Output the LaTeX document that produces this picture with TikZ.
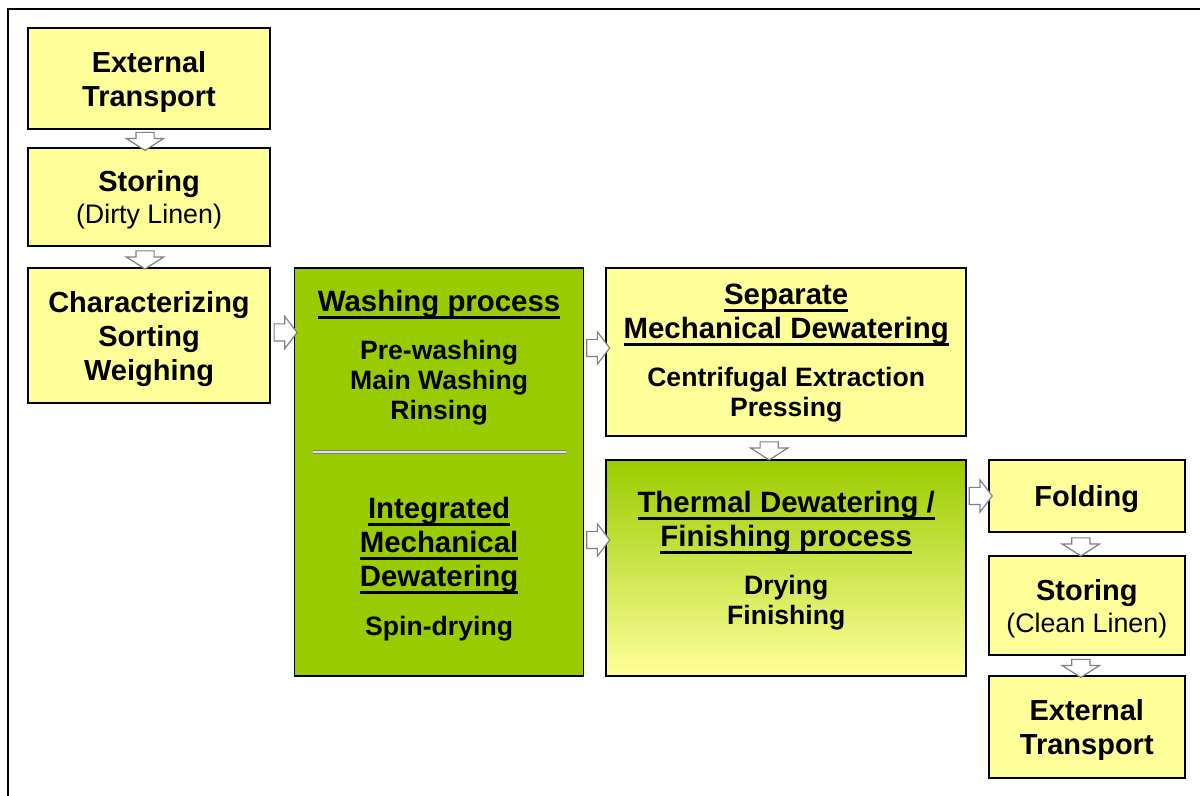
\documentclass[tikz,border=0pt]{standalone}
\usepackage{fontspec}
\setmainfont{Liberation Sans}
\usetikzlibrary{calc,positioning,shapes.arrows}
\definecolor{lyellow}{RGB}{255,255,153}
\definecolor{wgreen}{RGB}{153,204,0}
\newsavebox{\ulbox}
\newcommand{\ulin}[1]{\sbox{\ulbox}{#1}\rlap{\rule[-3.7pt]{\wd\ulbox}{1.5pt}}\usebox{\ulbox}}

\begin{document}
\begin{tikzpicture}[x=0.5pt,y=-0.5pt,node distance=11pt and 12pt]

\tikzset{yellownode/.style={draw=black,line width=0.8pt,fill=lyellow,align=center,inner sep=2pt,text depth=0pt,font=\fontsize{14.5}{17}\selectfont\bfseries,minimum width=121pt},
greennode/.style={draw=black,line width=0.8pt,fill=wgreen},
hdr/.style={align=center,font=\fontsize{14.7}{17}\selectfont\bfseries},
items/.style={align=center,font=\fontsize{13.3}{15}\selectfont\bfseries},
vblock/.style={single arrow,draw=gray,fill=white,line width=0.6pt,inner xsep=0pt,inner ysep=4.25pt,minimum height=9pt,single arrow head extend=4.75pt,single arrow tip angle=115,rotate=-90},
hblock/.style={single arrow,draw=gray,fill=white,line width=0.6pt,inner xsep=0pt,inner ysep=4pt,minimum height=11.5pt,single arrow head extend=3.75pt,single arrow tip angle=105}}

\useasboundingbox (0,0) rectangle (1200,796);

% Frame
\draw[line width=1pt] (8,800) -- (8,9) -- (1205,9);

% left column
\node (extT1) [yellownode,minimum height=50.5pt] at (149,78.5) {External\\Transport};
\node (store1) [yellownode,minimum height=49pt,below=8.7pt of extT1] {Storing\\[-1pt]{\mdseries\fontsize{13.4}{15}\selectfont (Dirty Linen)}};
\node (charSort) [yellownode,minimum height=67.5pt,below=10.2pt of store1] {Characterizing\\Sorting\\Weighing};

% washing process
\node (wash) [greennode,minimum width=144.5pt,minimum height=204pt,anchor=north west] at ($(charSort.north east)+(23,0)$) {};
\node (washHdr) at ($(wash.center)+(0,-167)$) [hdr] {\ulin{Washing process}};
\node (washItems) at ($(wash.center)+(0,-89)$) [items] {Pre-washing\\Main Washing\\Rinsing};
\draw[draw=black!50,double=black!12,double distance=0.6pt,line width=0.6pt] ($(wash.center)+(-126.5,-20)$) -- ($(wash.center)+(126.5,-20)$);
\node (intHdr) at ($(wash.center)+(0,74)$) [hdr] {\ulin{Integrated}\\\ulin{Mechanical}\\\ulin{Dewatering}};
\node (spin) at ($(wash.center)+(0,157)$) [items] {Spin-drying};

% separate dewatering
\node (sepDew) [yellownode,minimum width=180pt,minimum height=84pt,anchor=north west] at ($(wash.north east)+(21,0)$) {};
\node (sepHdr) at ($(sepDew.center)+(0,-37)$) [hdr] {\ulin{Separate}\\\ulin{Mechanical Dewatering}};
\node (sepItems) at ($(sepDew.center)+(0,43)$) [items] {Centrifugal Extraction\\Pressing};

% thermal dewatering
\node (thermDew) [draw=black,line width=0.8pt,top color=wgreen,bottom color=lyellow,minimum width=180pt,minimum height=108pt,below=11.2pt of sepDew] {};
\node (thermHdr) at ($(thermDew.center)+(0,-45)$) [hdr] {\ulin{Thermal Dewatering /}\\\ulin{Finishing process}};
\node (thermItems) at ($(thermDew.center)+(0,35)$) [items] {Drying\\Finishing};

% right column
\node (fold) [yellownode,minimum width=98pt,minimum height=36pt,anchor=north west] at ($(thermDew.north east)+(21,0)$) {Folding};
\node (store2) [yellownode,minimum width=98pt,minimum height=49.5pt,below=11.2pt of fold] {Storing\\[-1pt]{\mdseries\fontsize{13.4}{15}\selectfont (Clean Linen)}};
\node (extT2) [yellownode,minimum width=98pt,minimum height=51pt,below=9.7pt of store2] {External\\Transport};

% block arrows
\node (a1) [vblock] at ($(extT1.south)!.5!(store1.north)+(-4,0)$) {};
\node (a2) [vblock] at ($(store1.south)!.5!(charSort.north)+(-4,0)$) {};
\node (a3) [hblock] at ($(charSort.east)!.5!(charSort.east -| wash.west)+(0,-3)$) {};
\node (a4) [hblock] at ($(sepDew.west -| wash.east)!.5!(sepDew.west)+(0,-4)$) {};
\node (a5) [hblock] at ($(thermDew.west -| wash.east)!.5!(thermDew.west)+(0,-28)$) {};
\node (a6) [vblock] at ($(sepDew.south)!.5!(thermDew.north)+(-17,0)$) {};
\node (a7) [hblock] at ($(thermDew.east |- fold.west)!.5!(fold.west)$) {};
\node (a8) [vblock] at ($(fold.south)!.5!(store2.north)+(-6,0)$) {};
\node (a9) [vblock] at ($(store2.south)!.5!(extT2.north)+(-6,0)$) {};

\end{tikzpicture}
\end{document}
